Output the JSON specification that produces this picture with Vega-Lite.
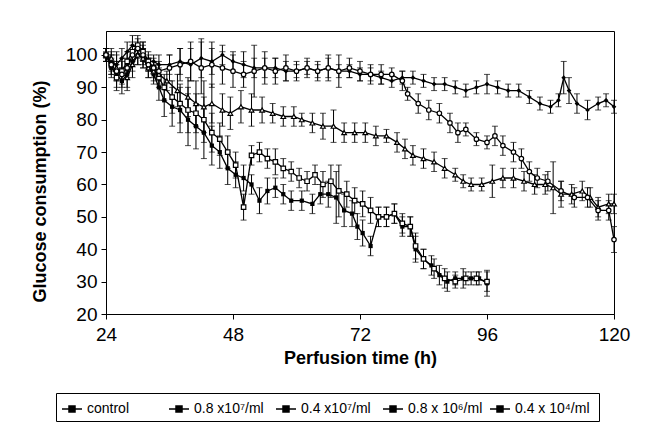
{
"$schema": "https://vega.github.io/schema/vega-lite/v6.json",
"width": 508, "height": 283,
"autosize": {"type": "none"},
"padding": {"left": 106, "top": 31, "right": 36, "bottom": 132},
"background": "white",
"config": {"view": {"stroke": "black", "strokeWidth": 1}, "font": "Liberation Sans"},
"data": {"values": [
{"s":"c","h":24,"v":100,"e":1},{"s":"c","h":25,"v":98,"e":3},{"s":"c","h":26,"v":97,"e":4},{"s":"c","h":27,"v":99,"e":3},{"s":"c","h":28,"v":101,"e":3},{"s":"c","h":29,"v":103,"e":3},{"s":"c","h":30,"v":102,"e":2},{"s":"c","h":31,"v":101,"e":3},{"s":"c","h":32,"v":98,"e":2},{"s":"c","h":33,"v":98,"e":2},{"s":"c","h":34,"v":97,"e":3},{"s":"c","h":36,"v":97,"e":3},{"s":"c","h":38,"v":98,"e":4},{"s":"c","h":40,"v":97,"e":5},{"s":"c","h":42,"v":99,"e":6},{"s":"c","h":44,"v":98,"e":4},{"s":"c","h":46,"v":100,"e":3},{"s":"c","h":48,"v":98,"e":3},{"s":"c","h":50,"v":97,"e":4},{"s":"c","h":52,"v":96,"e":3},{"s":"c","h":54,"v":96,"e":3},{"s":"c","h":56,"v":96,"e":3},{"s":"c","h":58,"v":95,"e":3},{"s":"c","h":60,"v":95,"e":2},{"s":"c","h":62,"v":96,"e":2},{"s":"c","h":64,"v":95,"e":2},{"s":"c","h":66,"v":96,"e":3},{"s":"c","h":68,"v":95,"e":2},{"s":"c","h":70,"v":95,"e":2},{"s":"c","h":72,"v":94,"e":2},{"s":"c","h":74,"v":94,"e":2},{"s":"c","h":76,"v":93,"e":2},{"s":"c","h":78,"v":92,"e":2},{"s":"c","h":80,"v":93,"e":2},{"s":"c","h":82,"v":93,"e":2},{"s":"c","h":84,"v":92,"e":2},{"s":"c","h":86,"v":91,"e":2},{"s":"c","h":88,"v":91,"e":2},{"s":"c","h":90,"v":90,"e":2},{"s":"c","h":92,"v":89,"e":2},{"s":"c","h":94,"v":90,"e":2},{"s":"c","h":96,"v":91,"e":3},{"s":"c","h":98,"v":90,"e":2},{"s":"c","h":100,"v":89,"e":2},{"s":"c","h":102,"v":89,"e":2},{"s":"c","h":104,"v":87,"e":2},{"s":"c","h":106,"v":85,"e":2},{"s":"c","h":108,"v":84,"e":2},{"s":"c","h":109.5,"v":86,"e":2},{"s":"c","h":110.5,"v":93,"e":5},{"s":"c","h":111.5,"v":89,"e":4},{"s":"c","h":113,"v":85,"e":3},{"s":"c","h":115,"v":83,"e":3},{"s":"c","h":117,"v":85,"e":2},{"s":"c","h":118.5,"v":86,"e":2},{"s":"c","h":120,"v":84,"e":2},
{"s":"e","h":24,"v":100,"e":2},{"s":"e","h":25,"v":97,"e":3},{"s":"e","h":26,"v":95,"e":3},{"s":"e","h":27,"v":94,"e":4},{"s":"e","h":28,"v":96,"e":3},{"s":"e","h":29,"v":100,"e":3},{"s":"e","h":30,"v":102,"e":3},{"s":"e","h":31,"v":100,"e":3},{"s":"e","h":32,"v":97,"e":2},{"s":"e","h":33,"v":96,"e":2},{"s":"e","h":34,"v":95,"e":3},{"s":"e","h":36,"v":96,"e":4},{"s":"e","h":38,"v":97,"e":5},{"s":"e","h":40,"v":98,"e":6},{"s":"e","h":42,"v":96,"e":8},{"s":"e","h":44,"v":97,"e":7},{"s":"e","h":46,"v":96,"e":5},{"s":"e","h":48,"v":95,"e":5},{"s":"e","h":50,"v":94,"e":4},{"s":"e","h":52,"v":95,"e":8},{"s":"e","h":54,"v":96,"e":5},{"s":"e","h":56,"v":95,"e":4},{"s":"e","h":58,"v":96,"e":4},{"s":"e","h":60,"v":95,"e":3},{"s":"e","h":62,"v":96,"e":3},{"s":"e","h":64,"v":95,"e":3},{"s":"e","h":66,"v":96,"e":4},{"s":"e","h":68,"v":95,"e":5},{"s":"e","h":70,"v":96,"e":3},{"s":"e","h":72,"v":95,"e":3},{"s":"e","h":74,"v":94,"e":3},{"s":"e","h":76,"v":94,"e":3},{"s":"e","h":78,"v":94,"e":2},{"s":"e","h":80,"v":92,"e":3},{"s":"e","h":81,"v":88,"e":2},{"s":"e","h":83,"v":85,"e":3},{"s":"e","h":85,"v":83,"e":3},{"s":"e","h":87,"v":82,"e":3},{"s":"e","h":89,"v":79,"e":3},{"s":"e","h":90.5,"v":76,"e":3},{"s":"e","h":92,"v":77,"e":2},{"s":"e","h":94,"v":74,"e":2},{"s":"e","h":96,"v":73,"e":2},{"s":"e","h":97.5,"v":75,"e":3},{"s":"e","h":99,"v":72,"e":3},{"s":"e","h":101,"v":70,"e":3},{"s":"e","h":102.5,"v":68,"e":3},{"s":"e","h":104,"v":64,"e":3},{"s":"e","h":105.5,"v":62,"e":3},{"s":"e","h":107.5,"v":61,"e":3},{"s":"e","h":110,"v":58,"e":3},{"s":"e","h":112.5,"v":56,"e":3},{"s":"e","h":115,"v":56,"e":3},{"s":"e","h":117,"v":52,"e":3},{"s":"e","h":119,"v":52,"e":3},{"s":"e","h":120,"v":43,"e":4},
{"s":"d","h":24,"v":100,"e":2},{"s":"d","h":25,"v":99,"e":3},{"s":"d","h":26,"v":96,"e":4},{"s":"d","h":28,"v":93,"e":4},{"s":"d","h":29,"v":97,"e":4},{"s":"d","h":30,"v":100,"e":3},{"s":"d","h":31,"v":99,"e":3},{"s":"d","h":32,"v":96,"e":3},{"s":"d","h":33,"v":95,"e":3},{"s":"d","h":34,"v":94,"e":3},{"s":"d","h":35.5,"v":92,"e":3},{"s":"d","h":37.5,"v":89,"e":5},{"s":"d","h":39.5,"v":87,"e":6},{"s":"d","h":41,"v":85,"e":7},{"s":"d","h":42.5,"v":84,"e":8},{"s":"d","h":44,"v":85,"e":6},{"s":"d","h":46,"v":83,"e":5},{"s":"d","h":47.5,"v":82,"e":5},{"s":"d","h":49.5,"v":84,"e":5},{"s":"d","h":51.5,"v":83,"e":5},{"s":"d","h":53.5,"v":83,"e":4},{"s":"d","h":55.5,"v":82,"e":3},{"s":"d","h":57.5,"v":81,"e":3},{"s":"d","h":59.5,"v":81,"e":3},{"s":"d","h":61,"v":80,"e":2},{"s":"d","h":63,"v":79,"e":3},{"s":"d","h":65,"v":78,"e":4},{"s":"d","h":67,"v":78,"e":5},{"s":"d","h":69,"v":76,"e":3},{"s":"d","h":71,"v":76,"e":3},{"s":"d","h":73,"v":76,"e":3},{"s":"d","h":75,"v":75,"e":3},{"s":"d","h":77,"v":75,"e":2},{"s":"d","h":79,"v":73,"e":3},{"s":"d","h":80.5,"v":71,"e":3},{"s":"d","h":82,"v":69,"e":3},{"s":"d","h":84,"v":68,"e":3},{"s":"d","h":86,"v":67,"e":3},{"s":"d","h":88,"v":65,"e":3},{"s":"d","h":90,"v":63,"e":2},{"s":"d","h":91.5,"v":61,"e":2},{"s":"d","h":93,"v":60,"e":2},{"s":"d","h":95,"v":60,"e":2},{"s":"d","h":97,"v":61,"e":5},{"s":"d","h":99,"v":62,"e":3},{"s":"d","h":101,"v":62,"e":3},{"s":"d","h":103,"v":61,"e":3},{"s":"d","h":105,"v":60,"e":3},{"s":"d","h":107,"v":60,"e":3},{"s":"d","h":108.5,"v":59,"e":8},{"s":"d","h":110,"v":57,"e":4},{"s":"d","h":112,"v":57,"e":3},{"s":"d","h":114,"v":58,"e":3},{"s":"d","h":115.5,"v":56,"e":3},{"s":"d","h":117,"v":53,"e":3},{"s":"d","h":119,"v":54,"e":3},{"s":"d","h":120,"v":54,"e":3},
{"s":"b","h":24,"v":100,"e":2},{"s":"b","h":25,"v":97,"e":3},{"s":"b","h":26,"v":93,"e":4},{"s":"b","h":27,"v":95,"e":4},{"s":"b","h":28,"v":98,"e":3},{"s":"b","h":29,"v":101,"e":3},{"s":"b","h":30,"v":103,"e":3},{"s":"b","h":31,"v":101,"e":3},{"s":"b","h":32,"v":98,"e":3},{"s":"b","h":33,"v":96,"e":3},{"s":"b","h":34,"v":93,"e":3},{"s":"b","h":35,"v":90,"e":4},{"s":"b","h":36.5,"v":87,"e":5},{"s":"b","h":38,"v":85,"e":6},{"s":"b","h":39.5,"v":83,"e":7},{"s":"b","h":41,"v":82,"e":6},{"s":"b","h":42.5,"v":80,"e":7},{"s":"b","h":44,"v":76,"e":6},{"s":"b","h":45.5,"v":74,"e":5},{"s":"b","h":47,"v":70,"e":5},{"s":"b","h":48.5,"v":66,"e":4},{"s":"b","h":50,"v":53,"e":4},{"s":"b","h":51.5,"v":69,"e":3},{"s":"b","h":53,"v":70,"e":3},{"s":"b","h":54.5,"v":68,"e":3},{"s":"b","h":56,"v":67,"e":4},{"s":"b","h":57.5,"v":65,"e":3},{"s":"b","h":59,"v":64,"e":3},{"s":"b","h":60.5,"v":62,"e":3},{"s":"b","h":62,"v":61,"e":3},{"s":"b","h":63.5,"v":63,"e":3},{"s":"b","h":65,"v":60,"e":4},{"s":"b","h":66.5,"v":61,"e":5},{"s":"b","h":68,"v":58,"e":8},{"s":"b","h":69.5,"v":57,"e":4},{"s":"b","h":71,"v":55,"e":4},{"s":"b","h":72.5,"v":54,"e":4},{"s":"b","h":74,"v":52,"e":4},{"s":"b","h":75.5,"v":50,"e":3},{"s":"b","h":77,"v":50,"e":3},{"s":"b","h":78.5,"v":51,"e":3},{"s":"b","h":80,"v":48,"e":3},{"s":"b","h":81.5,"v":47,"e":3},{"s":"b","h":82.5,"v":41,"e":4},{"s":"b","h":84,"v":37,"e":3},{"s":"b","h":86,"v":34,"e":3},{"s":"b","h":88,"v":31,"e":3},{"s":"b","h":90,"v":30,"e":2},{"s":"b","h":92,"v":31,"e":2},{"s":"b","h":94,"v":31,"e":2},{"s":"b","h":96,"v":30,"e":3},
{"s":"a","h":24,"v":100,"e":2},{"s":"a","h":25,"v":96,"e":3},{"s":"a","h":26,"v":94,"e":4},{"s":"a","h":27,"v":92,"e":4},{"s":"a","h":28,"v":94,"e":4},{"s":"a","h":29,"v":98,"e":3},{"s":"a","h":30,"v":100,"e":3},{"s":"a","h":31,"v":99,"e":3},{"s":"a","h":32,"v":96,"e":3},{"s":"a","h":33,"v":94,"e":3},{"s":"a","h":34,"v":90,"e":4},{"s":"a","h":35,"v":86,"e":5},{"s":"a","h":36.5,"v":84,"e":6},{"s":"a","h":38,"v":83,"e":7},{"s":"a","h":39.5,"v":80,"e":8},{"s":"a","h":41,"v":78,"e":7},{"s":"a","h":42.5,"v":76,"e":8},{"s":"a","h":44,"v":72,"e":6},{"s":"a","h":45.5,"v":70,"e":5},{"s":"a","h":47,"v":65,"e":5},{"s":"a","h":48.5,"v":63,"e":4},{"s":"a","h":50,"v":62,"e":4},{"s":"a","h":51.5,"v":60,"e":3},{"s":"a","h":53,"v":55,"e":4},{"s":"a","h":54.5,"v":58,"e":4},{"s":"a","h":56,"v":59,"e":3},{"s":"a","h":57.5,"v":57,"e":3},{"s":"a","h":59,"v":55,"e":3},{"s":"a","h":61,"v":55,"e":3},{"s":"a","h":63,"v":54,"e":3},{"s":"a","h":64.5,"v":57,"e":3},{"s":"a","h":66,"v":57,"e":4},{"s":"a","h":67.5,"v":56,"e":8},{"s":"a","h":69,"v":52,"e":5},{"s":"a","h":70.5,"v":51,"e":4},{"s":"a","h":71.5,"v":47,"e":4},{"s":"a","h":72.5,"v":45,"e":4},{"s":"a","h":74,"v":41,"e":3},{"s":"a","h":75.5,"v":50,"e":3},{"s":"a","h":77,"v":50,"e":3},{"s":"a","h":78.5,"v":51,"e":3},{"s":"a","h":80,"v":47,"e":3},{"s":"a","h":81.5,"v":47,"e":3},{"s":"a","h":82.5,"v":40,"e":4},{"s":"a","h":84,"v":37,"e":3},{"s":"a","h":85.5,"v":35,"e":3},{"s":"a","h":87,"v":32,"e":3},{"s":"a","h":88.5,"v":30,"e":3},{"s":"a","h":90,"v":31,"e":2},{"s":"a","h":91.5,"v":31,"e":3},{"s":"a","h":93,"v":31,"e":2},{"s":"a","h":94.5,"v":31,"e":2},{"s":"a","h":96,"v":29.5,"e":4}
]},
"encoding": {
  "x": {"field": "h", "type": "quantitative",
    "scale": {"domain": [24, 120], "nice": false, "zero": false},
    "axis": {"values": [24, 48, 72, 96, 120], "grid": false, "domainColor": "black", "tickColor": "black", "tickSize": 5,
      "labelFontSize": 19, "labelColor": "black", "labelPadding": 6, "labelFlush": false, "labelOverlap": false,
      "title": "Perfusion time (h)", "titleFontSize": 18, "titleFontWeight": "bold", "titleColor": "black", "titlePadding": 5}},
  "y": {"field": "v", "type": "quantitative",
    "scale": {"domain": [20, 107.4], "nice": false, "zero": false},
    "axis": {"values": [20, 30, 40, 50, 60, 70, 80, 90, 100], "grid": false, "domainColor": "black", "tickColor": "black", "tickSize": 5,
      "labelFontSize": 19, "labelColor": "black", "labelPadding": 4, "labelOverlap": false,
      "title": "Glucose consumption (%)", "titleFontSize": 18, "titleFontWeight": "bold", "titleColor": "black",
      "titleX": -61, "titleY": 160, "titleAlign": "center", "titleBaseline": "alphabetic", "titleAngle": -90}}
},
"layer": [
  {"mark": {"type": "errorbar", "color": "black", "thickness": 1, "ticks": {"size": 6, "color": "black"}},
   "encoding": {"yError": {"field": "e"}, "detail": {"field": "s"}}},
  {"mark": {"type": "line", "strokeWidth": 1.3},
   "encoding": {
     "color": {"field": "s", "type": "nominal",
       "scale": {"domain": ["c", "a", "b", "d", "e"], "range": ["black", "black", "black", "black", "black"]},
       "legend": {"orient": "none", "legendX": -50, "legendY": 362, "direction": "horizontal", "columns": 5,
         "gridAlign": "all", "columnPadding": 0, "title": null, "padding": 5, "strokeColor": "black",
         "symbolType": "M-1,0H1M-0.3,-0.3H0.3V0.3H-0.3Z", "symbolSize": 400, "symbolStrokeWidth": 1.5, "symbolFillColor": "black",
         "labelFontSize": 14, "labelColor": "black", "labelOffset": 4,
         "labelExpr": "{'c':'control','a':'0.8 x10⁷/ml','b':'0.4 x10⁷/ml','d':'0.8 x 10⁶/ml','e':'0.4 x  10⁴/ml'}[datum.value]"}}}},
  {"transform": [{"filter": "datum.s == 'c'"}],
   "mark": {"type": "point", "shape": "diamond", "filled": true, "color": "black", "size": 22, "opacity": 1}},
  {"transform": [{"filter": "datum.s == 'a'"}],
   "mark": {"type": "square", "filled": true, "color": "black", "size": 18, "opacity": 1}},
  {"transform": [{"filter": "datum.s == 'b'"}],
   "mark": {"type": "point", "shape": "square", "filled": false, "fill": "white", "stroke": "black", "strokeWidth": 1.2, "size": 20, "opacity": 1}},
  {"transform": [{"filter": "datum.s == 'd'"}],
   "mark": {"type": "point", "shape": "triangle-up", "filled": false, "fill": "white", "stroke": "black", "strokeWidth": 1.2, "size": 22, "opacity": 1}},
  {"transform": [{"filter": "datum.s == 'e'"}],
   "mark": {"type": "point", "shape": "circle", "filled": false, "fill": "white", "stroke": "black", "strokeWidth": 1.2, "size": 20, "opacity": 1}}
]
}
